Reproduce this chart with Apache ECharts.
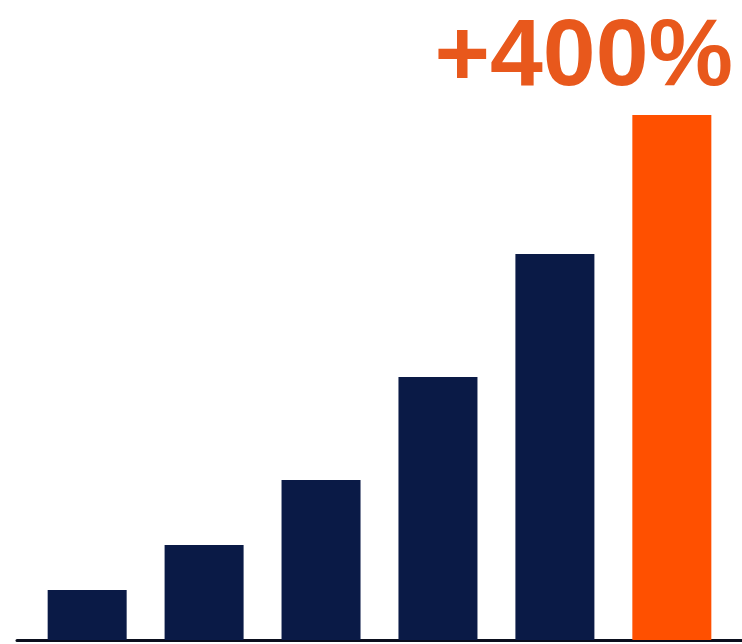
<!DOCTYPE html>
<html>
<head>
<meta charset="utf-8">
<script src="https://cdn.jsdelivr.net/npm/echarts@6/dist/echarts.min.js"></script>
<style>html,body{margin:0;padding:0;background:#fff;}#c{width:742px;height:644px;}</style>
</head>
<body>
<div id="c"></div>
<script>
const categories = [0, 1, 2, 3, 4, 5];
const values = [10, 19, 32, 52.6, 77.2, 105];
const highlightIndex = 5;
const labelText = '+400%';

const navy = '#0A1A46';
const orange = '#FF5000';

const chart = echarts.init(document.getElementById('c'));
chart.setOption({
  backgroundColor: '#ffffff',
  animation: false,
  title: {
    text: labelText,
    right: 4,
    top: 6,
    textStyle: { color: '#E8581C', fontSize: 95, fontWeight: 'bold', fontFamily: 'Liberation Sans', lineHeight: 95 }
  },
  grid: { left: 17, right: 0, top: 0, bottom: 4 },
  xAxis: {
    type: 'value', min: -0.6, max: 5.6,
    axisLine: { show: true, onZero: false, lineStyle: { color: '#0B0F1E', width: 3 } },
    axisTick: { show: false }, axisLabel: { show: false }, splitLine: { show: false }
  },
  yAxis: {
    type: 'value', min: 0, max: 128,
    axisLine: { show: false }, axisTick: { show: false }, axisLabel: { show: false }, splitLine: { show: false }
  },
  series: [{
    type: 'bar',
    barWidth: 79,
    data: categories.map((c, i) => ({
      value: [c, values[i]],
      itemStyle: { color: i === highlightIndex ? orange : navy }
    }))
  }]
});
</script>
</body>
</html>
